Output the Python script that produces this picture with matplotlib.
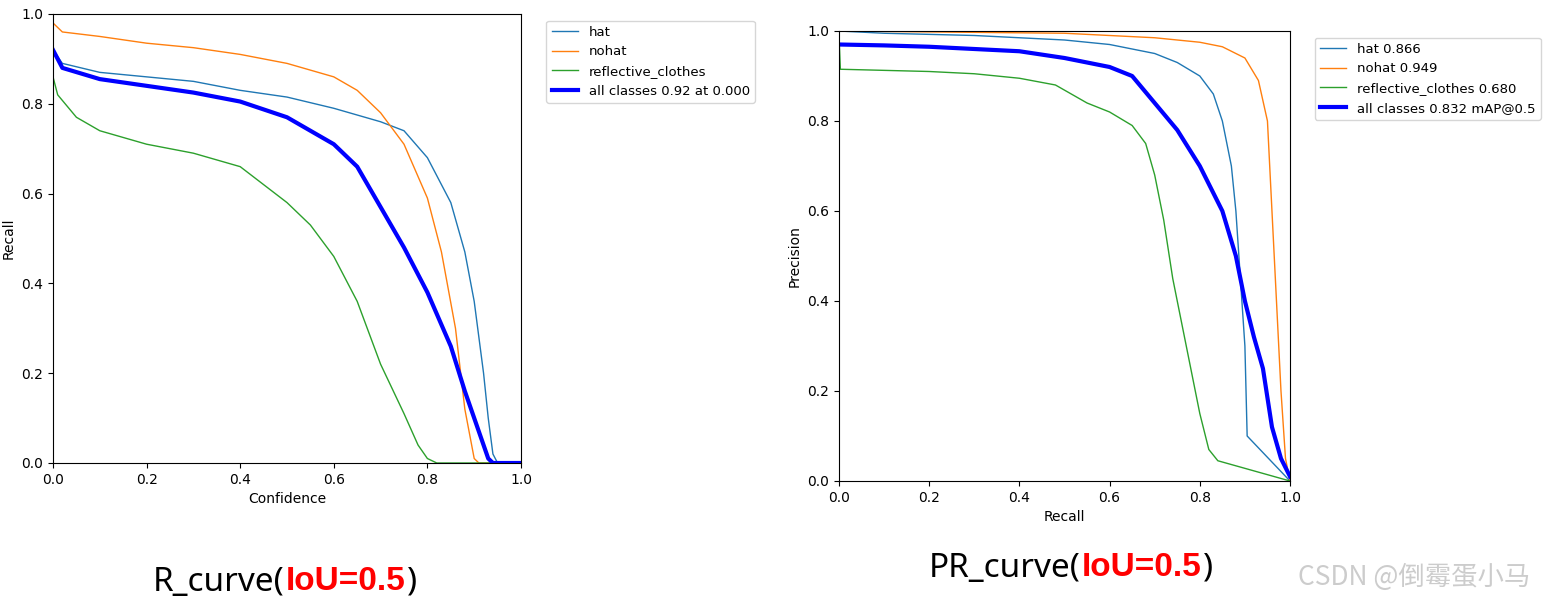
import matplotlib
matplotlib.use("Agg")
import matplotlib.pyplot as plt

# R curve data (confidence, recall)
r_hat_x = [0,0.02,0.1,0.2,0.3,0.4,0.5,0.6,0.7,0.75,0.8,0.85,0.88,0.9,0.92,0.93,0.94,0.95,1]
r_hat_y = [0.92,0.89,0.87,0.86,0.85,0.83,0.815,0.79,0.76,0.74,0.68,0.58,0.47,0.36,0.2,0.1,0.02,0,0]
r_nohat_x = [0,0.02,0.1,0.2,0.3,0.4,0.5,0.6,0.65,0.7,0.75,0.8,0.83,0.86,0.88,0.9,0.91,1]
r_nohat_y = [0.98,0.96,0.95,0.935,0.925,0.91,0.89,0.86,0.83,0.78,0.71,0.59,0.47,0.3,0.12,0.01,0,0]
r_refl_x = [0,0.01,0.05,0.1,0.2,0.3,0.4,0.45,0.5,0.55,0.6,0.65,0.7,0.75,0.78,0.8,0.82,1]
r_refl_y = [0.86,0.82,0.77,0.74,0.71,0.69,0.66,0.62,0.58,0.53,0.46,0.36,0.22,0.11,0.04,0.01,0,0]
r_all_x = [0,0.02,0.1,0.2,0.3,0.4,0.5,0.6,0.65,0.7,0.75,0.8,0.85,0.88,0.91,0.93,0.94,1]
r_all_y = [0.92,0.88,0.855,0.84,0.825,0.805,0.77,0.71,0.66,0.57,0.48,0.38,0.26,0.16,0.07,0.01,0,0]

# PR curve data (recall, precision)
p_hat_x = [0,0.1,0.3,0.5,0.6,0.7,0.75,0.8,0.83,0.85,0.87,0.88,0.89,0.9,0.905,1]
p_hat_y = [1,0.995,0.99,0.98,0.97,0.95,0.93,0.9,0.86,0.8,0.7,0.6,0.45,0.3,0.1,0]
p_nohat_x = [0,0.5,0.7,0.8,0.85,0.9,0.93,0.95,0.96,0.97,0.98,0.99,1]
p_nohat_y = [1,0.995,0.985,0.975,0.965,0.94,0.89,0.8,0.6,0.4,0.2,0.05,0]
p_refl_x = [0,0.003,0.2,0.3,0.4,0.48,0.55,0.6,0.65,0.68,0.7,0.72,0.74,0.76,0.78,0.8,0.82,0.84,1]
p_refl_y = [0.99,0.915,0.91,0.905,0.895,0.88,0.84,0.82,0.79,0.75,0.68,0.58,0.45,0.35,0.25,0.15,0.07,0.045,0]
p_all_x = [0,0.1,0.2,0.3,0.4,0.5,0.6,0.65,0.7,0.75,0.8,0.85,0.88,0.9,0.92,0.94,0.96,0.98,1]
p_all_y = [0.97,0.968,0.965,0.96,0.955,0.94,0.92,0.9,0.84,0.78,0.7,0.6,0.5,0.4,0.32,0.25,0.12,0.05,0.01]

r_labels = ["hat", "nohat", "reflective_clothes", "all classes 0.92 at 0.000"]
p_labels = ["hat 0.866", "nohat 0.949", "reflective_clothes 0.680", "all classes 0.832 mAP@0.5"]

fig = plt.figure(figsize=(15.47, 6.03), dpi=100)
ax1 = fig.add_axes([53/1547, 1-463/603, 468/1547, 449/603])
ax2 = fig.add_axes([839/1547, 1-481/603, 451/1547, 450/603])

for ax, data, labels, xl, yl in [
    (ax1, [(r_hat_x, r_hat_y), (r_nohat_x, r_nohat_y), (r_refl_x, r_refl_y), (r_all_x, r_all_y)], r_labels, "Confidence", "Recall"),
    (ax2, [(p_hat_x, p_hat_y), (p_nohat_x, p_nohat_y), (p_refl_x, p_refl_y), (p_all_x, p_all_y)], p_labels, "Recall", "Precision"),
]:
    cols = ["#1f77b4", "#ff7f0e", "#2ca02c"]
    for i in range(3):
        ax.plot(data[i][0], data[i][1], lw=1, color=cols[i], label=labels[i])
    ax.plot(data[3][0], data[3][1], lw=3, color="blue", label=labels[3])
    ax.set_xlim(0, 1); ax.set_ylim(0, 1)
    ax.set_xlabel(xl); ax.set_ylabel(yl)
    ax.legend(bbox_to_anchor=(1.04, 1), loc="upper left", fontsize=9.5)

renderer = fig.canvas.get_renderer()

def caption(x0, y, parts):
    x = x0
    for txt, col, wt, fam in parts:
        t = fig.text(x / 1547, 1 - y / 603, txt, fontsize=24, va="center", color=col,
                     fontweight=wt, family=fam)
        bb = t.get_window_extent(renderer)
        x += bb.width + 1

caption(153, 582, [("R_curve(", "black", "normal", "Noto Sans"), ("IoU=0.5", "red", "bold", "Liberation Sans"), (")", "black", "normal", "Noto Sans")])
caption(929, 568, [("PR_curve(", "black", "normal", "Noto Sans"), ("IoU=0.5", "red", "bold", "Liberation Sans"), (")", "black", "normal", "Noto Sans")])
fig.text(1414/1547, 1-577/603, "CSDN @倒霉蛋小马", fontsize=19, va="center", ha="center",
         color="#cccccc", family=["Noto Sans CJK SC", "DejaVu Sans"])

fig.savefig("out.png", dpi=100)
